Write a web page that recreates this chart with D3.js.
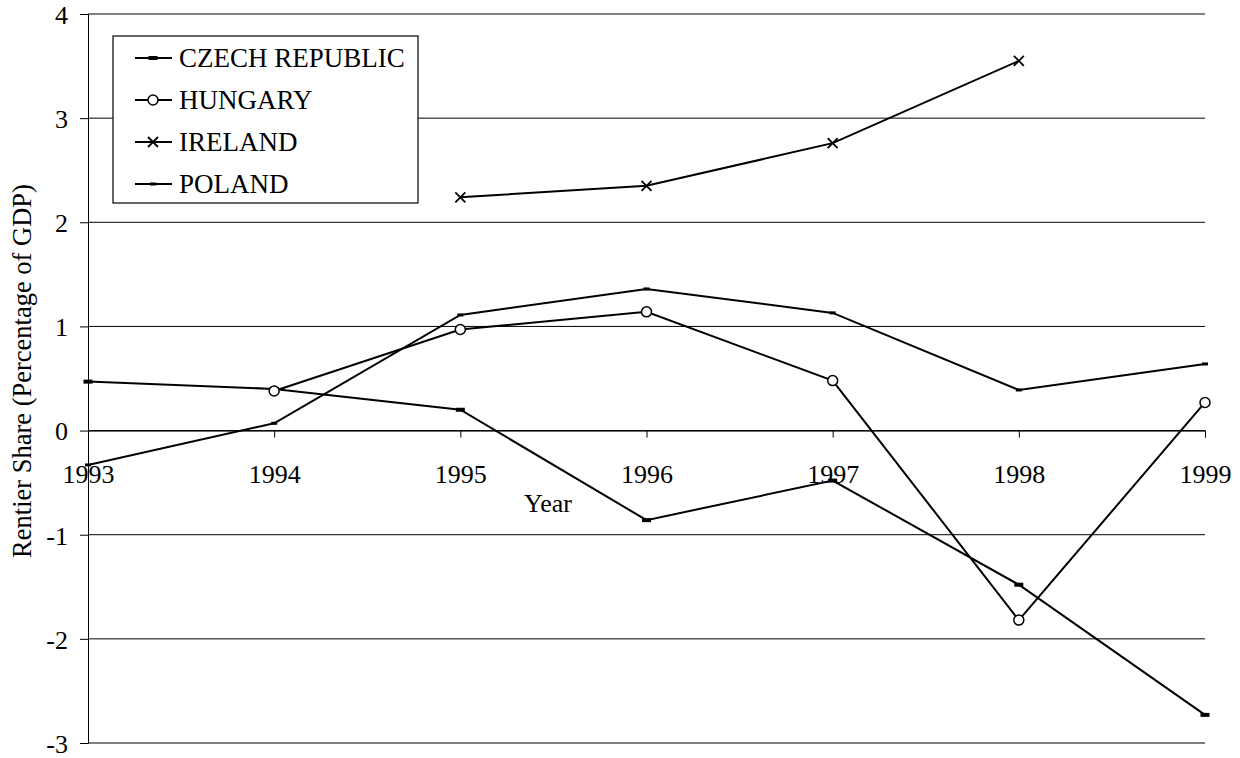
<!DOCTYPE html>
<html>
<head>
<meta charset="utf-8">
<script src="https://cdn.jsdelivr.net/npm/d3@7"></script>
<style>
  body { margin: 0; background: #fff; }
  svg { display: block; font-family: "Liberation Serif", "Times New Roman", serif; }
</style>
</head>
<body>
<div id="chart"></div>
<script>
// Data
const years = [1993, 1994, 1995, 1996, 1997, 1998, 1999];
const czech = [0.47, 0.40, 0.20, -0.86, -0.48, -1.48, -2.73];
const hungary = [null, 0.38, 0.97, 1.14, 0.48, -1.82, 0.27];
const ireland = [null, null, 2.24, 2.35, 2.76, 3.55, null];
const poland = [-0.33, 0.07, 1.11, 1.36, 1.13, 0.39, 0.64];
const yTicks = [-3, -2, -1, 0, 1, 2, 3, 4];

const series = [
  { name: "CZECH REPUBLIC", values: czech, marker: "bigdash" },
  { name: "HUNGARY", values: hungary, marker: "circle" },
  { name: "IRELAND", values: ireland, marker: "cross" },
  { name: "POLAND", values: poland, marker: "dash" },
];

const width = 1240, height = 758;
const margin = { top: 14, right: 35, bottom: 15, left: 88 };
const font = "Liberation Serif";

const svg = d3.select("#chart").append("svg")
  .attr("width", width)
  .attr("height", height);

const x = d3.scaleLinear()
  .domain([1993, 1999])
  .range([margin.left, width - margin.right]);

const y = d3.scaleLinear()
  .domain([-3, 4])
  .range([height - margin.bottom, margin.top]);

// hyphen instead of unicode minus, like the original
const fmt = d => String(d);

// gridlines
svg.append("g")
  .selectAll("line")
  .data(yTicks)
  .join("line")
  .attr("x1", margin.left)
  .attr("x2", width - margin.right)
  .attr("y1", d => y(d))
  .attr("y2", d => y(d))
  .attr("stroke", "#000")
  .attr("stroke-width", 1);

// y axis
const yAxis = svg.append("g")
  .attr("transform", `translate(${margin.left},0)`)
  .call(d3.axisLeft(y).tickValues(yTicks).tickSize(8).tickPadding(12).tickFormat(fmt));
yAxis.select(".domain").attr("stroke", "#000");
yAxis.selectAll("text")
  .attr("font-size", 26)
  .attr("font-family", font)
  .attr("fill", "#000")
  .attr("dy", "0.36em");

// x axis sits on zero
const xAxis = svg.append("g")
  .attr("transform", `translate(0,${y(0)})`)
  .call(d3.axisBottom(x).tickValues(years).tickSize(7).tickPadding(27).tickFormat(fmt));
xAxis.select(".domain").attr("stroke", "#000");
xAxis.selectAll("text")
  .attr("font-size", 26)
  .attr("font-family", font)
  .attr("fill", "#000");

// axis titles
svg.append("text")
  .attr("x", 548)
  .attr("y", 512)
  .attr("text-anchor", "middle")
  .attr("font-size", 26)
  .text("Year");

svg.append("text")
  .attr("transform", `translate(22,371) rotate(-90)`)
  .attr("text-anchor", "middle")
  .attr("dy", "0.35em")
  .attr("font-size", 26.5)
  .text("Rentier Share (Percentage of GDP)");

// marker drawing
const drawMarker = (g, type, cx, cy) => {
  if (type === "circle") {
    g.append("circle").attr("cx", cx).attr("cy", cy).attr("r", 5)
      .attr("fill", "#fff").attr("stroke", "#000").attr("stroke-width", 1.5);
  } else if (type === "cross") {
    g.append("path")
      .attr("d", `M${cx - 5},${cy - 5}L${cx + 5},${cy + 5}M${cx - 5},${cy + 5}L${cx + 5},${cy - 5}`)
      .attr("stroke", "#000").attr("stroke-width", 1.8);
  } else if (type === "bigdash") {
    g.append("rect").attr("x", cx - 4.5).attr("y", cy - 2).attr("width", 9).attr("height", 4)
      .attr("fill", "#000");
  } else {
    g.append("rect").attr("x", cx - 3).attr("y", cy - 1.5).attr("width", 6).attr("height", 3)
      .attr("fill", "#000");
  }
};

const line = d3.line()
  .defined(d => d.v !== null)
  .x(d => x(d.year))
  .y(d => y(d.v));

series.forEach(s => {
  const pts = years.map((year, i) => ({ year, v: s.values[i] }));
  const g = svg.append("g");
  g.append("path")
    .datum(pts)
    .attr("d", line)
    .attr("fill", "none")
    .attr("stroke", "#000")
    .attr("stroke-width", 2);
  pts.filter(p => p.v !== null).forEach(p => drawMarker(g, s.marker, x(p.year), y(p.v)));
});

// legend
const legend = svg.append("g");
legend.append("rect")
  .attr("x", 113)
  .attr("y", 36)
  .attr("width", 305)
  .attr("height", 167)
  .attr("fill", "#fff")
  .attr("stroke", "#000")
  .attr("stroke-width", 1.2);

series.forEach((s, i) => {
  const ly = 58 + i * 42;
  const item = legend.append("g");
  item.append("line")
    .attr("x1", 135).attr("x2", 172)
    .attr("y1", ly).attr("y2", ly)
    .attr("stroke", "#000").attr("stroke-width", 2);
  drawMarker(item, s.marker, 153, ly);
  item.append("text")
    .attr("x", 179)
    .attr("y", ly)
    .attr("dy", "0.35em")
    .attr("font-size", 27)
    .text(s.name);
});
</script>
</body>
</html>
